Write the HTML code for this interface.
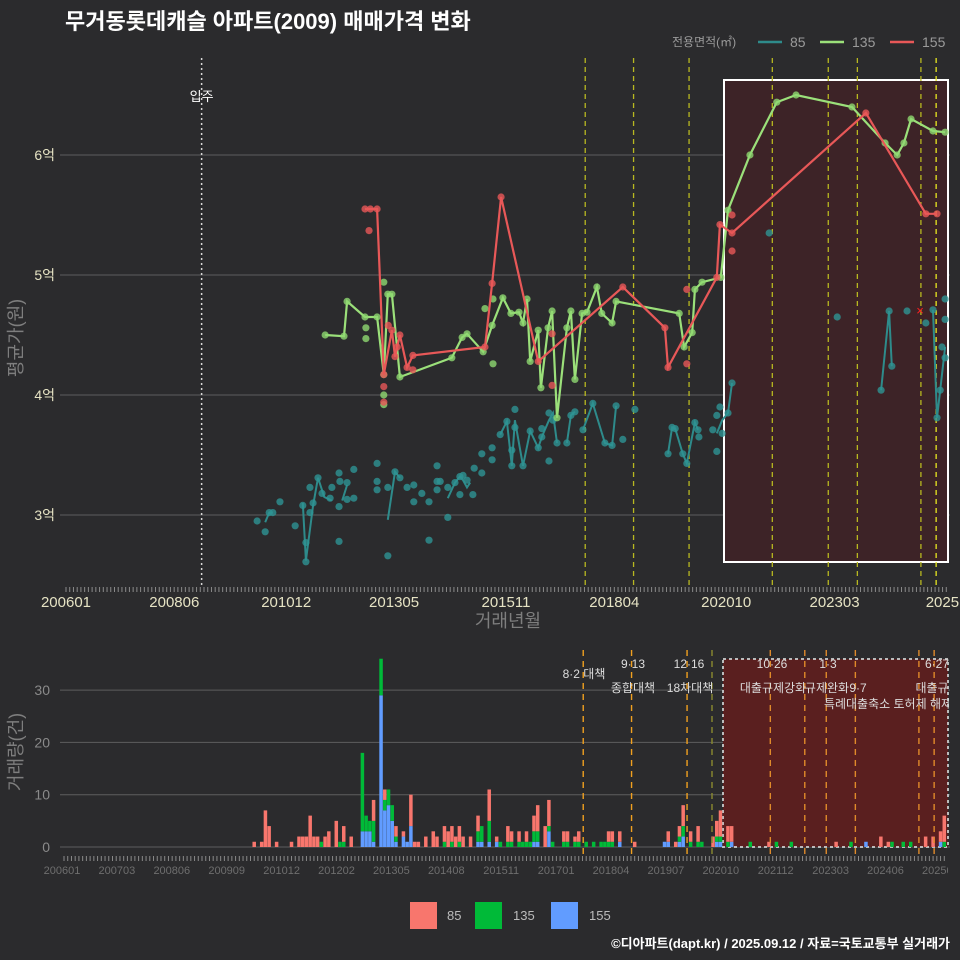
<!DOCTYPE html>
<html><head><meta charset="utf-8">
<style>
html,body{margin:0;padding:0;background:#2b2b2d;}
svg{display:block;font-family:"Liberation Sans","Noto Sans CJK KR",sans-serif;}
</style></head>
<body>
<svg id="chart" width="960" height="960" viewBox="0 0 960 960" xmlns="http://www.w3.org/2000/svg">
<defs>
<clipPath id="clipTop"><rect x="60" y="55" width="890" height="535"/></clipPath>
<clipPath id="clipBot"><rect x="60" y="640" width="889" height="215"/></clipPath>
<clipPath id="clipBotLabels"><rect x="30" y="860" width="918" height="20"/></clipPath>
</defs>
<rect x="0" y="0" width="960" height="960" fill="#2b2b2d"/>
<text x="65" y="29" fill="#ffffff" font-size="22" font-weight="bold">무거동롯데캐슬 아파트(2009) 매매가격 변화</text>
<g>
<text x="672" y="46" fill="#9a9a9a" font-size="12">전용면적(㎡)</text>
<line x1="758" y1="42" x2="782" y2="42" stroke="#2e8b8b" stroke-width="2.5"/>
<text x="790" y="47" fill="#9a9a9a" font-size="14">85</text>
<line x1="820" y1="42" x2="844" y2="42" stroke="#9be07a" stroke-width="2.5"/>
<text x="852" y="47" fill="#9a9a9a" font-size="14">135</text>
<line x1="890" y1="42" x2="914" y2="42" stroke="#e85858" stroke-width="2.5"/>
<text x="922" y="47" fill="#9a9a9a" font-size="14">155</text>
</g>
<g id="topChart"></g>
<g id="botChart"></g>
<text transform="translate(22,338) rotate(-90)" text-anchor="middle" fill="#7e7e7e" font-size="18">평균가(원)</text>
<text x="508" y="627" text-anchor="middle" fill="#7e7e7e" font-size="18">거래년월</text>
<text transform="translate(22,752) rotate(-90)" text-anchor="middle" fill="#7e7e7e" font-size="18">거래량(건)</text>
<g>
<rect x="410" y="902" width="27" height="27" fill="#f8766d"/>
<text x="447" y="920" fill="#bbbbbb" font-size="13">85</text>
<rect x="475" y="902" width="27" height="27" fill="#00ba38"/>
<text x="513" y="920" fill="#bbbbbb" font-size="13">135</text>
<rect x="551" y="902" width="27" height="27" fill="#619cff"/>
<text x="589" y="920" fill="#bbbbbb" font-size="13">155</text>
</g>
<text x="950" y="948" text-anchor="end" fill="#ffffff" font-size="13" font-weight="bold">©디아파트(dapt.kr) / 2025.09.12 / 자료=국토교통부 실거래가</text>
</svg>
<script>
const priceTicks = [3,4,5,6];
const priceTickLabels = ["3억","4억","5억","6억"];
const xTickYears = [2006.0,2008.42,2010.92,2013.33,2015.83,2018.25,2020.75,2023.17,2025.58];
const xTickLabels = ["200601","200806","201012","201305","201511","201804","202010","202303","2025"];
const line135 = [[2011.79,4.50],[2012.21,4.49],[2012.28,4.78],[2012.68,4.65],[2012.95,4.65],[2013.10,4.17],[2013.19,4.84],[2013.28,4.84],[2013.46,4.15],[2014.62,4.31],[2014.85,4.48],[2014.96,4.51],[2015.32,4.36],[2015.52,4.58],[2015.76,4.81],[2015.94,4.68],[2016.12,4.69],[2016.21,4.60],[2016.30,4.80],[2016.37,4.28],[2016.55,4.54],[2016.61,4.06],[2016.77,4.56],[2016.86,4.70],[2016.97,3.81],[2017.19,4.56],[2017.28,4.70],[2017.37,4.13],[2017.53,4.68],[2017.64,4.69],[2017.86,4.90],[2017.97,4.68],[2018.20,4.60],[2018.29,4.78],[2019.70,4.68],[2019.81,4.40],[2019.99,4.52],[2020.05,4.88],[2020.21,4.94],[2020.63,4.98],[2020.79,5.54],[2021.28,6.00],[2021.88,6.44],[2022.31,6.50],[2023.56,6.40],[2024.30,6.10],[2024.57,6.00],[2024.72,6.10],[2024.88,6.30],[2025.37,6.20],[2025.64,6.19]];
const extra135 = [[2013.10,4.94],[2012.70,4.56],[2012.70,4.47],[2013.10,4.00],[2013.10,3.92],[2015.36,4.72],[2015.54,4.80],[2015.54,4.26]];
const line155 = [[2012.68,5.55],[2012.95,5.55],[2013.10,4.17],[2013.28,4.54],[2013.35,4.32],[2013.46,4.50],[2013.62,4.23],[2013.75,4.33],[2015.36,4.40],[2015.52,4.93],[2015.72,5.65],[2016.55,4.28],[2018.44,4.90],[2019.38,4.56],[2019.45,4.23],[2020.54,4.98],[2020.61,5.42],[2020.88,5.35],[2023.87,6.35],[2025.21,5.51],[2025.46,5.51]];
const extra155 = [[2012.77,5.37],[2012.80,5.55],[2013.10,4.07],[2013.10,3.94],[2013.75,4.21],[2016.86,4.51],[2016.86,4.08],[2019.87,4.88],[2019.87,4.26],[2020.88,5.50],[2020.88,5.20],[2013.20,4.58],[2013.40,4.40]];
const points85 = [[2010.27,2.95],[2010.45,2.86],[2010.54,3.02],[2010.62,3.02],[2010.78,3.11],[2011.12,2.91],[2011.29,3.08],[2011.36,2.77],[2011.36,2.61],[2011.45,3.02],[2011.52,3.10],[2011.45,3.23],[2011.63,3.31],[2011.72,3.18],[2011.94,3.23],[2011.90,3.14],[2012.10,3.35],[2012.12,3.28],[2012.10,3.07],[2012.10,2.78],[2012.28,3.27],[2012.28,3.13],[2012.43,3.38],[2012.43,3.14],[2012.95,3.43],[2012.95,3.28],[2012.95,3.21],[2013.19,3.23],[2013.19,2.66],[2013.35,3.36],[2013.46,3.31],[2013.62,3.23],[2013.77,3.25],[2013.77,3.11],[2013.95,3.18],[2014.11,3.11],[2014.11,2.79],[2014.29,3.41],[2014.29,3.28],[2014.36,3.28],[2014.29,3.21],[2014.53,3.23],[2014.53,2.98],[2014.69,3.27],[2014.80,3.32],[2014.87,3.33],[2014.96,3.29],[2014.80,3.17],[2015.09,3.17],[2015.12,3.39],[2015.29,3.35],[2015.29,3.51],[2015.52,3.56],[2015.52,3.46],[2015.70,3.67],[2015.85,3.78],[2016.03,3.88],[2015.96,3.41],[2015.96,3.54],[2016.03,3.73],[2016.21,3.41],[2016.37,3.70],[2016.55,3.56],[2016.63,3.65],[2016.63,3.72],[2016.79,3.85],[2016.79,3.45],[2016.88,3.79],[2016.97,3.60],[2017.19,3.60],[2017.28,3.83],[2017.37,3.86],[2017.55,3.71],[2017.77,3.93],[2018.04,3.60],[2018.20,3.58],[2018.29,3.91],[2018.44,3.63],[2018.71,3.88],[2019.45,3.51],[2019.54,3.73],[2019.61,3.72],[2019.78,3.51],[2019.87,3.43],[2020.05,3.77],[2020.12,3.71],[2020.14,3.65],[2020.45,3.71],[2020.54,3.83],[2020.54,3.53],[2020.61,3.90],[2020.66,3.68],[2020.79,3.85],[2020.88,4.10],[2021.71,5.35],[2023.23,4.65],[2024.21,4.04],[2024.39,4.70],[2024.45,4.24],[2024.79,4.70],[2025.21,4.60],[2025.37,4.71],[2025.46,3.81],[2025.53,4.04],[2025.57,4.40],[2025.64,4.63],[2025.64,4.80],[2025.64,4.31]];
const segments85 = [
 [[2010.45,2.94],[2010.54,3.02],[2010.62,3.02]],
 [[2011.29,3.10],[2011.36,2.62],[2011.52,3.08],[2011.63,3.31],[2011.77,3.15],[2011.94,3.12]],
 [[2012.17,3.12],[2012.28,3.25]],
 [[2013.19,2.96],[2013.35,3.36],[2013.46,3.31]],
 [[2014.53,3.14],[2014.69,3.27],[2014.80,3.32],[2014.87,3.29],[2014.96,3.23],[2015.03,3.27]],
 [[2015.70,3.67],[2015.85,3.78],[2015.96,3.41],[2016.03,3.79],[2016.21,3.41],[2016.37,3.70],[2016.55,3.56],[2016.63,3.65],[2016.79,3.79],[2016.88,3.85],[2016.97,3.60]],
 [[2017.19,3.60],[2017.28,3.83],[2017.37,3.86]],
 [[2017.55,3.71],[2017.77,3.93],[2018.04,3.60],[2018.20,3.58],[2018.29,3.91]],
 [[2019.45,3.51],[2019.54,3.73],[2019.61,3.72],[2019.78,3.51],[2019.87,3.43],[2020.05,3.77],[2020.12,3.71]],
 [[2020.54,3.68],[2020.66,3.79],[2020.79,3.85],[2020.88,4.10]],
 [[2024.21,4.04],[2024.39,4.70],[2024.45,4.24]],
 [[2025.37,4.71],[2025.46,3.81],[2025.53,4.04],[2025.64,4.40]]
];
const policyYears = [2017.60,2018.68,2019.92,2021.78,2023.03,2023.68,2025.10,2025.44];
const moveInYear = 2009.03;
const volTicks = [0,10,20,30];
const botTickLabels = ["200601","200703","200806","200909","201012","201202","201305","201408","201511","201701","201804","201907","202010","202112","202303","202406","202509"];
const months = ["201004","201006","201007","201008","201010","201102","201104","201105","201106","201107","201108","201109","201110","201111","201112","201202","201203","201204","201206","201209","201210","201211","201212","201302","201303","201304","201305","201306","201308","201309","201310","201311","201312","201402","201404","201405","201407","201408","201409","201410","201411","201412","201502","201504","201505","201507","201509","201510","201512","201601","201603","201604","201605","201606","201607","201608","201610","201611","201612","201703","201704","201706","201707","201709","201711","201801","201802","201803","201804","201806","201810","201906","201907","201909","201910","201911","202001","202003","202004","202007","202008","202009","202011","202012","202105","202110","202112","202204","202304","202308","202312","202404","202406","202407","202410","202412","202504","202506","202508","202509"];
const vol85 = [1,1,7,4,1,1,2,2,2,6,2,2,0,2,3,5,0,3,2,0,0,0,4,0,2,0,0,2,1,0,6,1,1,2,3,2,3,3,3,2,3,2,2,3,0,6,1,0,3,2,2,0,2,0,3,5,4,5,0,2,2,1,2,0,0,0,0,2,2,2,1,0,2,1,2,4,2,3,0,2,3,5,3,3,0,1,0,0,1,0,0,2,1,0,0,0,2,2,2,5];
const vol135 = [0,0,0,0,0,0,0,0,0,0,0,0,1,0,0,0,1,1,0,15,3,2,4,7,2,3,3,1,0,0,0,0,0,0,0,0,1,0,1,0,1,0,0,2,3,4,0,1,1,1,1,1,1,1,2,2,0,1,1,1,1,1,1,1,1,1,1,1,1,0,0,0,0,0,1,2,1,1,1,0,1,1,1,0,1,0,1,1,0,1,0,0,0,1,1,1,0,0,0,1];
const vol155 = [0,0,0,0,0,0,0,0,0,0,0,0,0,0,0,0,0,0,0,3,3,3,1,29,7,8,5,1,2,1,4,0,0,0,0,0,0,0,0,0,0,0,0,1,1,1,1,0,0,0,0,0,0,0,1,1,0,3,0,0,0,0,0,0,0,0,0,0,0,1,0,1,1,0,1,2,0,0,0,0,1,1,0,1,0,0,0,0,0,0,1,0,0,0,0,0,0,0,1,0];
const annotLines1 = [["8·2 대책",584,678,"middle"],["9·13",633,668,"middle"],["12·16",689,668,"middle"],["10·26",772,668,"middle"],["1·3",828,668,"middle"],["6·27",937,668,"middle"]];
const annotLines2 = [["종합대책",633,692,"middle"],["18차대책",690,692,"middle"],["대출규제강화",773,692,"middle"],["규제완화",827,692,"middle"],["9·7",858,692,"middle"],["대출규",932,692,"middle"],["특례대출축소 토허제 해제",888,708,"middle"]];
const botPolicyYears = [2017.60,2018.68,2019.92,2021.78,2022.55,2023.03,2023.68,2025.10,2025.44];

const NS="http://www.w3.org/2000/svg";
function mk(tag,attrs,parent){const e=document.createElementNS(NS,tag);for(const k in attrs)e.setAttribute(k,attrs[k]);parent.appendChild(e);return e;}
const xT = y => 66 + 44.76*(y-2006);
const yT = v => 515 - 120*(v-3);
const xB = y => 64 + 44.76*(y-2006);
const yB = c => 847 - 5.23*c;
const monthIdx = m => (parseInt(m.slice(0,4))-2006)*12 + parseInt(m.slice(4,6))-1;

const gTop=document.getElementById('topChart');
const gBot=document.getElementById('botChart');

priceTicks.forEach((t,i)=>{
 const gl=mk('line',{x1:60,x2:950,y1:yT(t),y2:yT(t),stroke:'#5e5e5e','stroke-width':1},gTop);
 
 
 const tl=mk('text',{x:55,y:yT(t)+5,'text-anchor':'end',fill:'#e6e3c4','font-size':14},gTop);
 tl.textContent=priceTickLabels[i];
 
 
});
const hr=mk('rect',{x:724,y:80,width:224,height:482,fill:'#3d2327',stroke:'#ffffff','stroke-width':2},gTop);


for(let i=0;i<=236;i++){
 const tk=mk('line',{x1:xT(2006+i/12),x2:xT(2006+i/12),y1:587,y2:592,stroke:'#8a8a8a','stroke-width':1},gTop);
 
 
}
xTickYears.forEach((y,i)=>{
 const tl=mk('text',{x:xT(y),y:607,'text-anchor':'middle',fill:'#e6e3c4','font-size':15},gTop);
 tl.textContent=xTickLabels[i];
 
 
});
const mv=mk('line',{x1:xT(moveInYear),x2:xT(moveInYear),y1:58,y2:588,stroke:'#d8d8d8','stroke-width':1.5,'stroke-dasharray':'2,3'},gTop);


const mt=mk('text',{x:xT(moveInYear),y:101,'text-anchor':'middle',fill:'#ffffff','font-size':13},gTop);
mt.textContent='입주';


policyYears.forEach((y,i)=>{
 const pl=mk('line',{x1:xT(y),x2:xT(y),y1:58,y2:588,stroke:i==policyYears.length-1?'#e8e820':'#b8b820','stroke-width':1.3,'stroke-dasharray':'5,4'},gTop);
 
 
});
const g=mk('g',{'clip-path':'url(#clipTop)'},gTop);
function path(pts){return pts.map((p,i)=>(i?'L':'M')+xT(p[0]).toFixed(1)+','+yT(p[1]).toFixed(1)).join(' ');}
function dots(pts,color,name){pts.forEach(p=>{const c=mk('circle',{cx:xT(p[0]),cy:yT(p[1]),r:3.6,fill:color,'fill-opacity':0.8},g);
 
 });}
segments85.forEach(s=>{const l=mk('path',{d:path(s),fill:'none',stroke:'#2e8b8b','stroke-width':2},g);
 
 });
dots(points85,'#2e9494','point-85');
const l135=mk('path',{d:path(line135),fill:'none',stroke:'#9be07a','stroke-width':2.2},g);


dots(line135,'#8fd870','point-135');
dots(extra135,'#8fd870','point-135');
const l155=mk('path',{d:path(line155),fill:'none',stroke:'#e85858','stroke-width':2.2},g);


dots(line155,'#e85858','point-155');
dots(extra155,'#e85858','point-155');
const xm=mk('text',{x:xT(2025.08),y:yT(4.71)+5,'text-anchor':'middle',fill:'#ff2020','font-size':13},g);
xm.textContent='×';



volTicks.forEach(t=>{
 const gl=mk('line',{x1:60,x2:950,y1:yB(t),y2:yB(t),stroke:'#5e5e5e','stroke-width':1},gBot);
 
 
 const tl=mk('text',{x:50,y:yB(t)+5,'text-anchor':'end',fill:'#8a8a8a','font-size':14},gBot);
 tl.textContent=String(t);
 
 
});
const br=mk('rect',{x:723,y:659,width:225,height:188,fill:'#5a1f1f',stroke:'#bbbbbb','stroke-width':2,'stroke-dasharray':'3,3'},gBot);


for(let i=0;i<=236;i++){
 const tk=mk('line',{x1:xB(2006+i/12),x2:xB(2006+i/12),y1:856,y2:861,stroke:'#8a8a8a','stroke-width':1},gBot);
 
 
}
const gl2=mk('g',{'clip-path':'url(#clipBotLabels)'},gBot);
botTickLabels.forEach((lab,i)=>{
 const tl=mk('text',{x:62+54.9*i,y:874,'text-anchor':'middle',fill:'#6e6e6e','font-size':11},gl2);
 tl.textContent=lab;
 
 
});
const gb=mk('g',{'clip-path':'url(#clipBot)'},gBot);
months.forEach((m,i)=>{
 const idx=monthIdx(m);const cx=64+3.73*idx;
 let base=0;
 [[vol155[i],'#619cff','bar-155'],[vol135[i],'#00ba38','bar-135'],[vol85[i],'#f8766d','bar-85']].forEach(s=>{
  if(s[0]>0){const r=mk('rect',{x:cx-1.75,y:yB(base+s[0]),width:3.5,height:yB(base)-yB(base+s[0]),fill:s[1]},gb);
  
  
  base+=s[0];}
 });
});
botPolicyYears.forEach((y,i)=>{
 const pl=mk('line',{x1:xB(y),x2:xB(y),y1:650,y2:856,stroke:(i<3?'#f0a020':'#e08a2a'),'stroke-width':1.4,'stroke-dasharray':'6,5'},gb);
 
 
});
const ol=mk('line',{x1:712,x2:712,y1:650,y2:856,stroke:'#8a8a30','stroke-width':1.4,'stroke-dasharray':'6,5'},gb);


annotLines1.concat(annotLines2).forEach(a=>{
 const t=mk('text',{x:a[1],y:a[2],'text-anchor':a[3],fill:'#dddddd','font-size':12},gb);
 t.textContent=a[0];
 
 
});
</script>
</body></html>
